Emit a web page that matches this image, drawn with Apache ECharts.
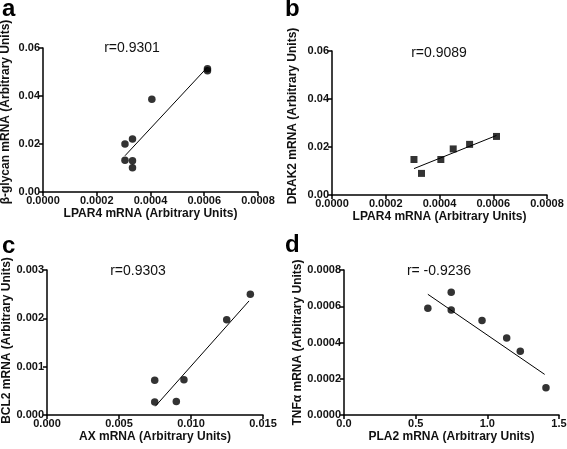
<!DOCTYPE html>
<html><head><meta charset="utf-8">
<script src="https://cdn.jsdelivr.net/npm/echarts@6/dist/echarts.min.js"></script>
<style>html,body{margin:0;padding:0;background:#fff}#c{width:567px;height:449px}</style>
</head><body><div id="c"></div>
<script>
// Panel a
const aX = [0.000305, 0.000305, 0.000333, 0.000333, 0.000333, 0.000405, 0.000612, 0.000612];
const aY = [0.0200, 0.0132, 0.0221, 0.0130, 0.0101, 0.0386, 0.0514, 0.0505];
const aFitX = [0.000305, 0.000612];
const aFitY = [0.0151, 0.0520];
// Panel b
const bX = [0.000305, 0.000333, 0.000405, 0.000451, 0.000512, 0.000612];
const bY = [0.0148, 0.0090, 0.0148, 0.0192, 0.0211, 0.0244];
const bFitX = [0.000305, 0.000612];
const bFitY = [0.0110, 0.0248];
// Panel c
const cX = [0.00748, 0.00748, 0.00898, 0.00951, 0.01248, 0.01412];
const cY = [0.00072, 0.00027, 0.00028, 0.00073, 0.00197, 0.00250];
const cFitX = [0.00752, 0.01403];
const cFitY = [0.00018, 0.00236];
// Panel d
const dX = [0.585, 0.748, 0.748, 0.963, 1.135, 1.230, 1.409];
const dY = [0.000589, 0.000677, 0.000580, 0.000522, 0.000425, 0.000352, 0.000151];
const dFitX = [0.585, 1.400];
const dFitY = [0.000666, 0.000224];

const panelLetters = ['a', 'b', 'c', 'd'];
const rTexts = ['r=0.9301', 'r=0.9089', 'r=0.9303', 'r= -0.9236'];
const xNames = ['LPAR4 mRNA (Arbitrary Units)', 'LPAR4 mRNA (Arbitrary Units)', 'AX mRNA (Arbitrary Units)', 'PLA2 mRNA (Arbitrary Units)'];
const yNames = ['\u03b2-glycan mRNA (Arbitrary Units)', 'DRAK2 mRNA (Arbitrary Units)', 'BCL2 mRNA (Arbitrary Units)', 'TNF\u03b1 mRNA (Arbitrary Units)'];
const xMax = [0.0008, 0.0008, 0.015, 1.5];
const xInt = [0.0002, 0.0002, 0.005, 0.5];
const xDec = [4, 4, 3, 1];
const yMax = [0.06, 0.06, 0.003, 0.0008];
const yInt = [0.02, 0.02, 0.001, 0.0002];
const yDec = [2, 2, 3, 4];

const zip = (xs, ys) => xs.map((x, i) => [x, ys[i]]);
const pts = [zip(aX, aY), zip(bX, bY), zip(cX, cY), zip(dX, dY)];
const fits = [zip(aFitX, aFitY), zip(bFitX, bFitY), zip(cFitX, cFitY), zip(dFitX, dFitY)];
const symbols = ['circle', 'rect', 'circle', 'circle'];

const FONT = 'Arial, "Liberation Sans", sans-serif';
const grids = [
  {left: 43, top: 48, width: 215, height: 144},
  {left: 332, top: 51, width: 215, height: 144},
  {left: 47, top: 270, width: 216, height: 145},
  {left: 344, top: 270, width: 215, height: 145}
].map(g => Object.assign({outerBoundsMode: 'none', containLabel: false}, g));

const axisCommon = {
  axisLine: {show: true, onZero: false, lineStyle: {color: '#000', width: 1.5}},
  axisTick: {show: true, length: 4, lineStyle: {color: '#000', width: 1.5}},
  splitLine: {show: false},
  axisLabel: {color: '#111', fontSize: 11, fontWeight: 'bold', fontFamily: FONT, margin: 3},
  nameLocation: 'middle',
  nameTextStyle: {color: '#111', fontSize: 12, fontWeight: 'bold', fontFamily: FONT}
};
const yNamePad = [[0, 0, 0, 16], [0, 0, 0, 14], [0, 0, 0, 4], [0, 0, 0, 0]];
const yNameGap = [31, 33, 33, 38];

const xAxes = [], yAxes = [], series = [];
for (let i = 0; i < 4; i++) {
  xAxes.push(Object.assign({}, axisCommon, {
    type: 'value', gridIndex: i, min: 0, max: xMax[i], interval: xInt[i],
    name: xNames[i], nameGap: 16,
    axisLabel: Object.assign({}, axisCommon.axisLabel, {formatter: v => v.toFixed(xDec[i])})
  }));
  yAxes.push(Object.assign({}, axisCommon, {
    type: 'value', gridIndex: i, min: 0, max: yMax[i], interval: yInt[i],
    name: yNames[i], nameGap: yNameGap[i],
    nameTextStyle: Object.assign({}, axisCommon.nameTextStyle, {padding: yNamePad[i]}),
    axisLabel: Object.assign({}, axisCommon.axisLabel, {formatter: v => v.toFixed(yDec[i])})
  }));
  series.push({
    type: 'scatter', xAxisIndex: i, yAxisIndex: i, data: pts[i],
    symbol: symbols[i], symbolSize: i === 1 ? 7 : 7.5, itemStyle: {color: '#000'}, silent: true
  });
  series.push({
    type: 'line', xAxisIndex: i, yAxisIndex: i, data: fits[i],
    symbol: 'none', lineStyle: {color: '#000', width: 1}, silent: true
  });
}

const letterPos = [[2, 12], [285, 12], [2, 249], [285, 248]];
const rPos = [[132, 48], [439, 53], [138, 271], [439, 271]];
const graphics = [];
for (let i = 0; i < 4; i++) {
  graphics.push({type: 'text', left: letterPos[i][0], top: letterPos[i][1] - 15,
    style: {text: panelLetters[i], font: 'bold 24px ' + FONT, fill: '#000'}});
  graphics.push({type: 'text', x: rPos[i][0], y: rPos[i][1],
    style: {text: rTexts[i], font: '14px ' + FONT, fill: '#111', align: 'center', verticalAlign: 'middle'}});
}

const chart = echarts.init(document.getElementById('c'), null, {renderer: 'canvas'});
chart.setOption({
  animation: false,
  backgroundColor: '#fff',
  grid: grids, xAxis: xAxes, yAxis: yAxes, series: series,
  graphic: graphics
});
</script></body></html>
